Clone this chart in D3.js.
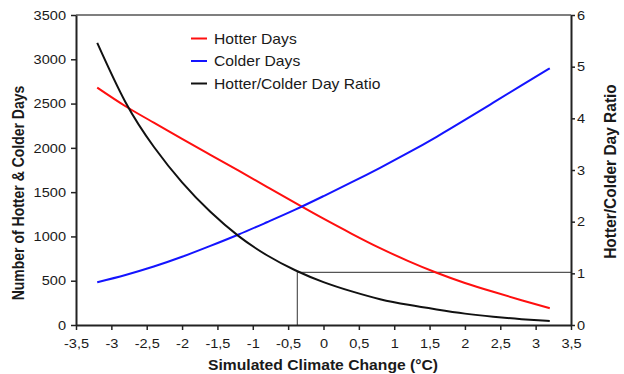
<!DOCTYPE html>
<html>
<head>
<meta charset="utf-8">
<script src="https://cdn.jsdelivr.net/npm/d3@7"></script>
<style>
  html, body { margin: 0; padding: 0; background: #fff; }
  svg { display: block; }
  text { font-family: "Liberation Sans", Arial, sans-serif; fill: #1a1a1a; }
</style>
</head>
<body>
<svg id="chart" width="624" height="374"></svg>
<script>
// Simulated climate change (°C)
const change = [-3.2, -2.8, -2.4, -2.0, -1.6, -1.2, -0.8, -0.4, 0.0, 0.4, 0.8, 1.2, 1.6, 2.0, 2.4, 2.8, 3.2];
// Number of hotter days
const hotterDays = [2680, 2470, 2285, 2102, 1922, 1742, 1560, 1378, 1200, 1030, 868, 722, 590, 475, 375, 280, 190];
// Number of colder days
const colderDays = [482, 565, 660, 770, 893, 1022, 1160, 1302, 1455, 1612, 1775, 1945, 2125, 2315, 2510, 2705, 2898];
// Hotter / colder day ratio
const dayRatio = [5.46, 4.31, 3.45, 2.76, 2.19, 1.72, 1.35, 1.06, 0.83, 0.65, 0.50, 0.39, 0.30, 0.22, 0.16, 0.113, 0.076];

// Point where the ratio equals one
const crossoverChange = -0.37;
const crossoverRatio = 1.02;

// Axis ticks
const xTickValues = [-3.5, -3, -2.5, -2, -1.5, -1, -0.5, 0, 0.5, 1, 1.5, 2, 2.5, 3, 3.5];
const xTickLabels = ["-3,5", "-3", "-2,5", "-2", "-1,5", "-1", "-0,5", "0", "0,5", "1", "1,5", "2", "2,5", "3", "3,5"];
const leftTickValues = [0, 500, 1000, 1500, 2000, 2500, 3000, 3500];
const leftTickLabels = ["0", "500", "1000", "1500", "2000", "2500", "3000", "3500"];
const rightTickValues = [0, 1, 2, 3, 4, 5, 6];
const rightTickLabels = ["0", "1", "2", "3", "4", "5", "6"];

const seriesNames = ["Hotter Days", "Colder Days", "Hotter/Colder Day Ratio"];
const seriesColors = ["#ff0f0f", "#1414ff", "#111111"];

const SX = 1.12; // horizontal text stretch

const svg = d3.select("#chart");
const plotL = 76, plotR = 571, plotT = 15, plotB = 325;

const x = d3.scaleLinear().domain([-3.5, 3.5]).range([plotL, plotR]);
const yDays = d3.scaleLinear().domain([0, 3500]).range([plotB, plotT]);
const yRatio = d3.scaleLinear().domain([0, 6]).range([plotB, plotT]);

// plot frame (top edge)
svg.append("line")
  .attr("x1", plotL).attr("x2", plotR).attr("y1", plotT).attr("y2", plotT)
  .attr("stroke", "#555").attr("stroke-width", 1.6);

// ratio = 1 marker box
svg.append("path")
  .attr("d", `M${x(crossoverChange)},${yRatio(0)}V${yRatio(crossoverRatio)}H${plotR}`)
  .attr("fill", "none").attr("stroke", "#555").attr("stroke-width", 1.2);

function styleAxis(g) {
  g.select(".domain").attr("stroke", "#222").attr("stroke-width", 2);
  g.selectAll(".tick line").attr("stroke", "#222").attr("stroke-width", 1.5);
  g.selectAll(".tick text").style("font-size", "13px").attr("fill", "#222");
}

// bottom axis
const gx = svg.append("g").attr("transform", `translate(0,${plotB})`)
  .call(d3.axisBottom(x).tickValues(xTickValues).tickSize(5).tickSizeOuter(0)
    .tickFormat((d, i) => xTickLabels[i]));
styleAxis(gx);
gx.selectAll(".tick text").attr("y", 23).attr("dy", 0).attr("transform", `scale(${SX},1)`);

// left axis
const gl = svg.append("g").attr("transform", `translate(${plotL},0)`)
  .call(d3.axisLeft(yDays).tickValues(leftTickValues).tickSize(5).tickSizeOuter(0)
    .tickFormat((d, i) => leftTickLabels[i]));
styleAxis(gl);
gl.selectAll(".tick text").attr("x", -10 / SX).attr("transform", `scale(${SX},1)`);

// right axis
const gr = svg.append("g").attr("transform", `translate(${plotR},0)`)
  .call(d3.axisRight(yRatio).tickValues(rightTickValues).tickSize(4).tickSizeOuter(0)
    .tickFormat((d, i) => rightTickLabels[i]));
styleAxis(gr);
gr.selectAll(".tick text").attr("x", 6 / SX).attr("transform", `scale(${SX},1)`);

// curves
const lineDays = d3.line().x((d, i) => x(change[i])).y(d => yDays(d)).curve(d3.curveNatural);
const lineRatio = d3.line().x((d, i) => x(change[i])).y(d => yRatio(d)).curve(d3.curveNatural);

svg.append("path").datum(hotterDays).attr("d", lineDays)
  .attr("fill", "none").attr("stroke", seriesColors[0]).attr("stroke-width", 2);
svg.append("path").datum(colderDays).attr("d", lineDays)
  .attr("fill", "none").attr("stroke", seriesColors[1]).attr("stroke-width", 2);
svg.append("path").datum(dayRatio).attr("d", lineRatio)
  .attr("fill", "none").attr("stroke", seriesColors[2]).attr("stroke-width", 2);

// stretched text helper
function label(tx, ty, str, size, weight, anchor, rot) {
  svg.append("text")
    .attr("transform", `translate(${tx},${ty}) scale(${SX},1)` + (rot ? ` rotate(${rot})` : ""))
    .attr("text-anchor", anchor)
    .style("font-size", size + "px")
    .style("font-weight", weight)
    .text(str);
}

// legend
seriesNames.forEach((name, i) => {
  const cy = 38.5 + i * 22.5;
  svg.append("line").attr("x1", 191).attr("x2", 207).attr("y1", cy).attr("y2", cy)
    .attr("stroke", seriesColors[i]).attr("stroke-width", 2);
  label(214, cy + 5, name, 14, "normal", "start");
});

// axis titles
label(323, 370, "Simulated Climate Change (°C)", 14, "bold", "middle");
label(24, 193, "Number of Hotter & Colder Days", 14, "bold", "middle", -90);
label(616, 171.5, "Hotter/Colder Day Ratio", 15.5, "bold", "middle", -90);
</script>
</body>
</html>
